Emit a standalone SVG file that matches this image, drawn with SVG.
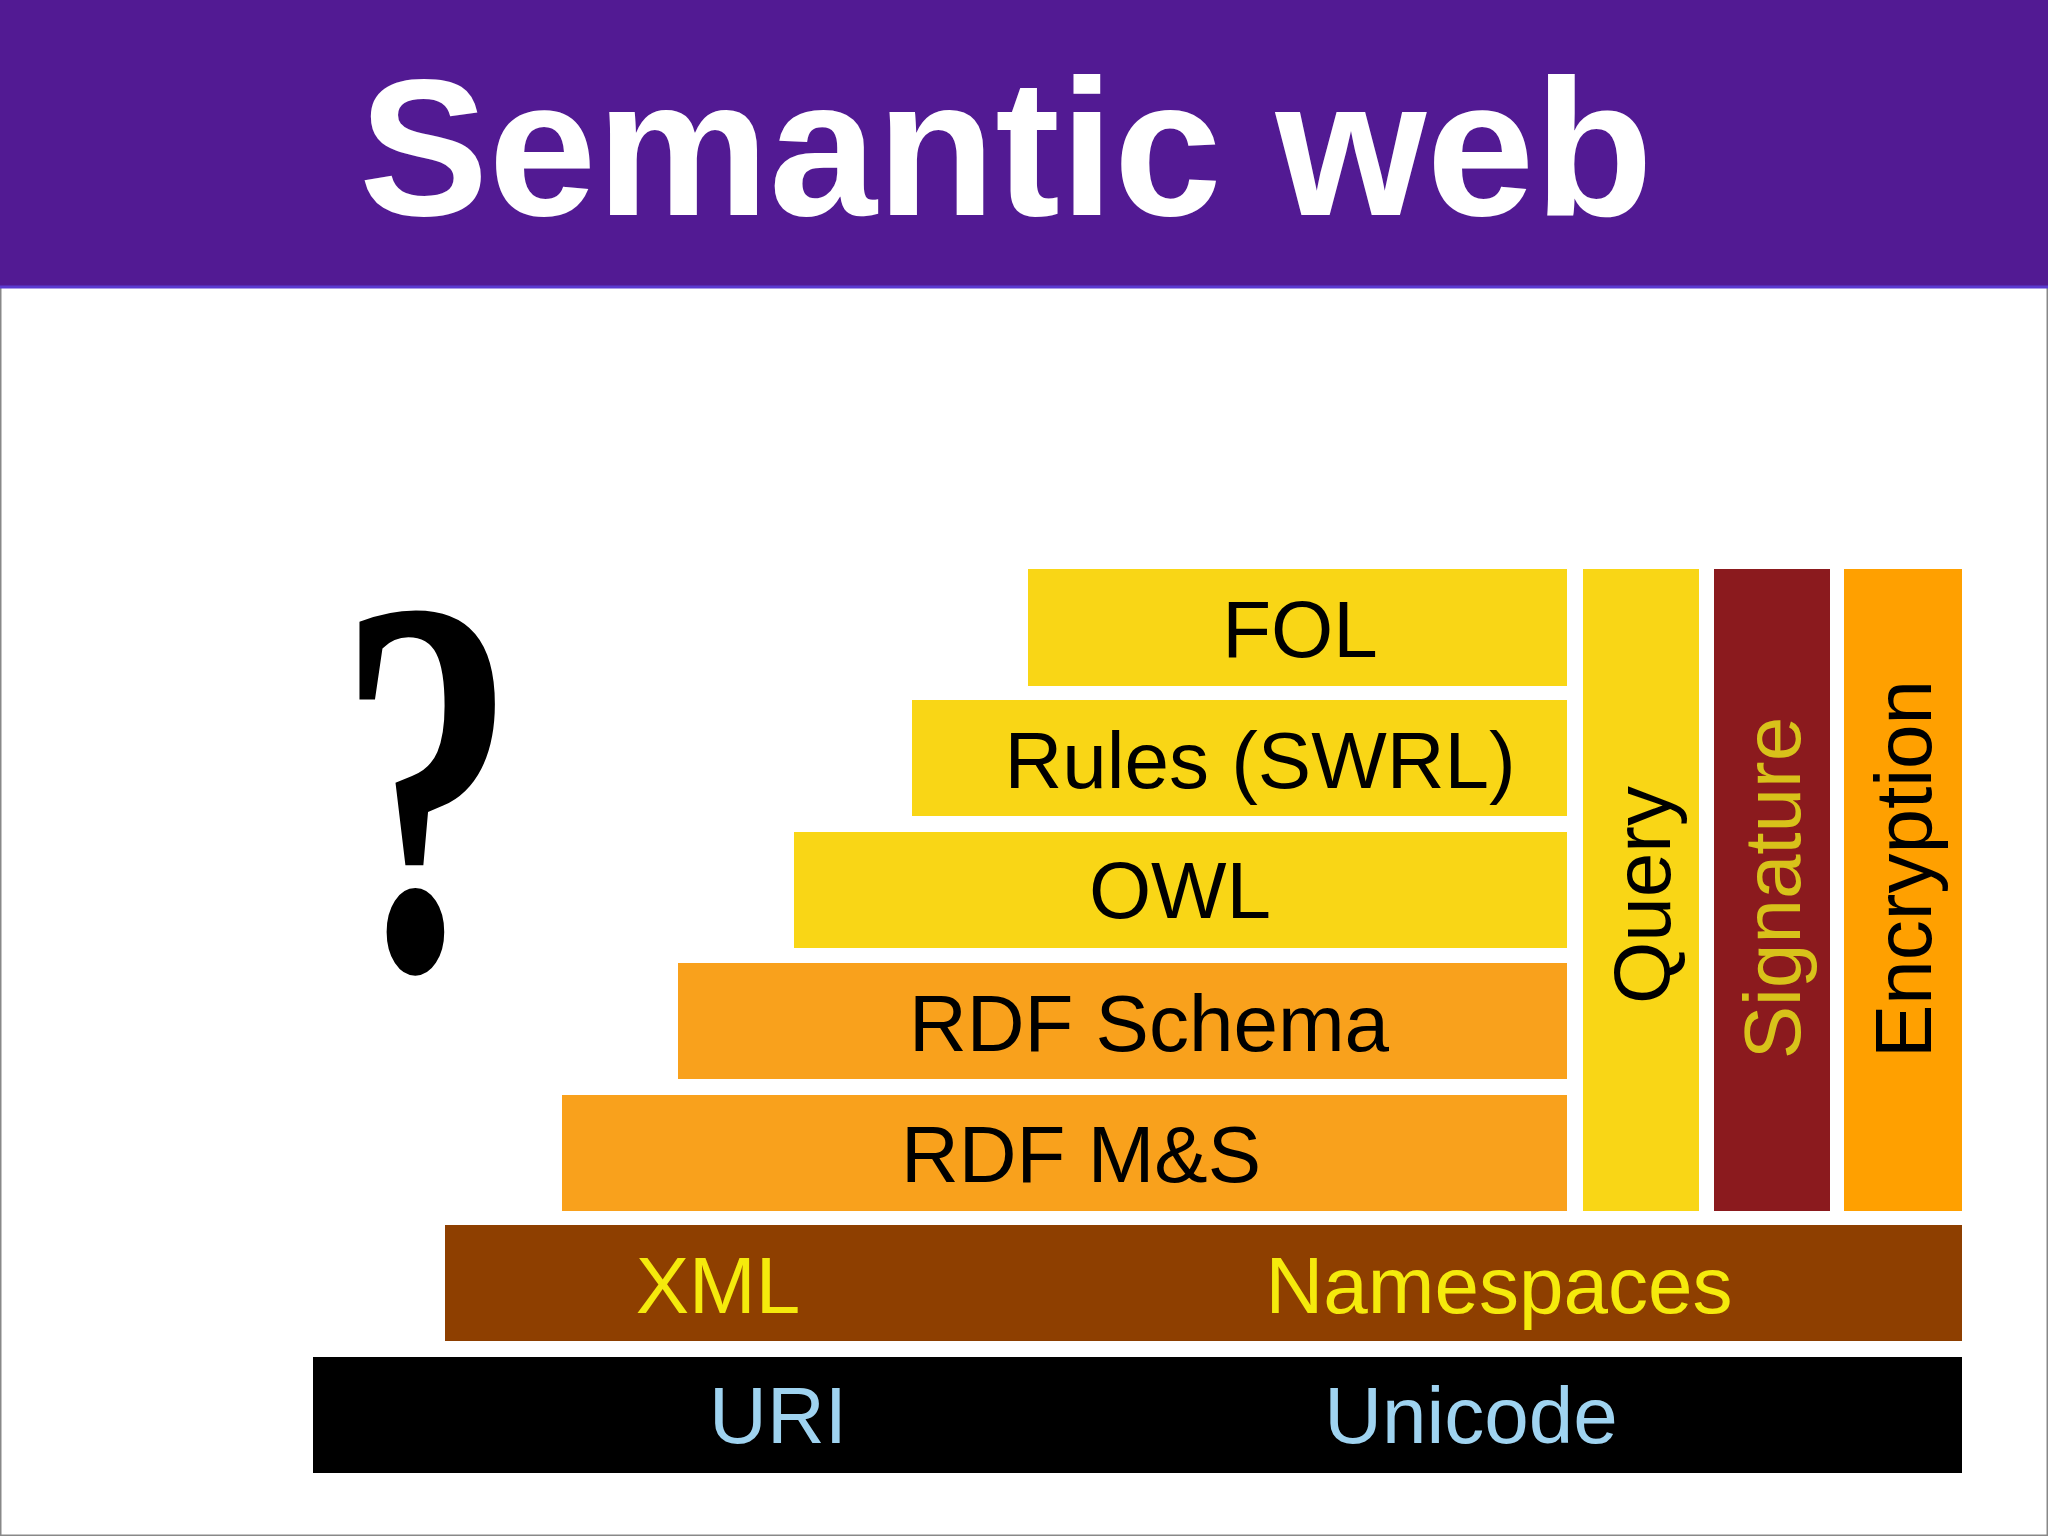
<svg xmlns="http://www.w3.org/2000/svg" width="2048" height="1536" viewBox="0 0 2048 1536">
<style>
.t{font-family:"Liberation Sans",Arial,sans-serif;font-size:80px;text-anchor:middle}
.y{fill:#f9d616}.o{fill:#f9a11c}
</style>
<rect width="2048" height="1536" fill="#fff" stroke="#888" stroke-width="3"/>
<rect x="0" y="0" width="2048" height="287" fill="#521a93"/>
<line x1="0" y1="287" x2="2048" y2="287" stroke="#5a3ad0" stroke-width="3"/>
<text x="1006" y="215" font-family="Liberation Sans,Arial,sans-serif" font-weight="bold" font-size="194" fill="#fff" text-anchor="middle">Semantic web</text>
<text transform="translate(427,968) scale(0.66,1)" font-family="Liberation Serif,serif" font-weight="bold" font-size="540" fill="#000" text-anchor="middle">?</text>
<g id="fol"><rect class="y" x="1028" y="569" width="539" height="117"/><text class="t" x="1300" y="657">FOL</text></g>
<g id="rules"><rect class="y" x="912" y="700" width="655" height="116"/><text class="t" x="1260" y="788">Rules (SWRL)</text></g>
<g id="owl"><rect class="y" x="794" y="832" width="773" height="116"/><text class="t" x="1180" y="918">OWL</text></g>
<g id="rdfs"><rect class="o" x="678" y="963" width="889" height="116"/><text class="t" x="1149" y="1051" font-size="74">RDF Schema</text></g>
<g id="rdfms"><rect class="o" x="562" y="1095" width="1005" height="116"/><text class="t" x="1081" y="1182">RDF M&amp;S</text></g>
<g id="xml"><rect x="445" y="1225" width="1517" height="116" fill="#8e3f00"/><text class="t" x="718" y="1313" fill="#f5ea0c">XML</text><text class="t" x="1499" y="1313" fill="#f5ea0c">Namespaces</text></g>
<g id="uri"><rect x="313" y="1357" width="1649" height="116" fill="#000"/><text class="t" x="778" y="1443" fill="#9fd3f0">URI</text><text class="t" x="1471" y="1443" fill="#9fd3f0">Unicode</text></g>
<g id="query"><rect class="y" x="1583" y="569" width="116" height="642"/><text class="t" transform="translate(1670,895) rotate(-90)">Query</text></g>
<g id="sig"><rect x="1714" y="569" width="116" height="642" fill="#8b1a1e"/><text class="t" transform="translate(1800,888) rotate(-90)" fill="#d8c21a">Signature</text></g>
<g id="enc"><rect x="1844" y="569" width="118" height="642" fill="#ffa000"/><text class="t" transform="translate(1931,869) rotate(-90)">Encryption</text></g>
<g id="connectors"/>
</svg>
